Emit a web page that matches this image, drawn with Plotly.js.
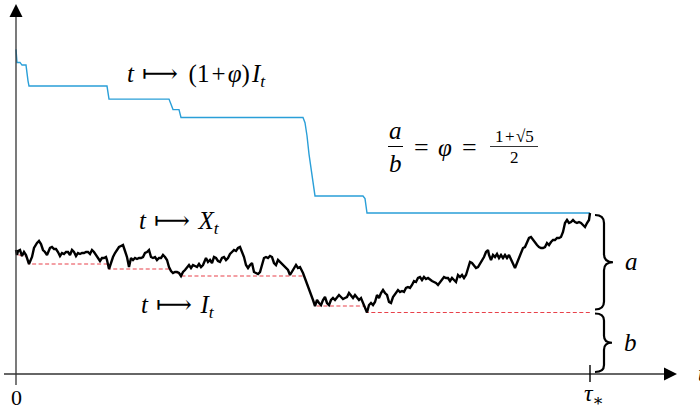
<!DOCTYPE html>
<html>
<head>
<meta charset="utf-8">
<script src="https://cdn.plot.ly/plotly-3.0.1.min.js"></script>
<style>
  html, body { margin: 0; padding: 0; background: #fff; }
  #chart { width: 700px; height: 411px; }
</style>
</head>
<body>
<div id="chart"></div>
<script>
// Sample path X_t (t in steps, tau* = last step)
const tSteps = [
  0, 1, 2, 4, 6, 8, 10, 12, 13, 16, 18, 21, 23, 25, 27, 29, 31, 34, 36, 38,
  40, 42, 44, 46, 48, 50, 52, 54, 56, 58, 60, 62, 64, 66, 68, 70, 72, 74, 76, 78,
  80, 82, 84, 86, 88, 90, 91, 93, 95, 97, 99, 101, 103, 105, 107, 109, 111, 113, 115, 117,
  119, 121, 123, 125, 127, 129, 131, 133, 135, 137, 139, 141, 143, 145, 147, 149, 151, 153, 155, 157,
  159, 161, 163, 165, 167, 169, 171, 173, 175, 177, 179, 181, 183, 185, 187, 188, 190, 192, 194, 196,
  198, 200, 202, 204, 206, 208, 210, 212, 214, 216, 218, 220, 222, 224, 226, 228, 230, 232, 234, 236,
  238, 240, 242, 244, 246, 248, 250, 252, 254, 256, 258, 260, 262, 264, 266, 268, 270, 272, 274, 276,
  278, 280, 282, 284, 287, 289, 291, 293, 295, 297, 299, 301, 303, 305, 307, 309, 311, 313, 315, 317,
  319, 321, 323, 325, 327, 329, 331, 333, 335, 337, 339, 341, 343, 345, 347, 349, 351, 353, 355, 357,
  359, 361, 363, 365, 367, 369, 371, 373, 375, 377, 380, 382, 384, 386, 388, 390, 392, 394, 396, 398,
  400, 402, 404, 406, 408, 410, 412, 414, 416, 418, 420, 422, 424, 426, 428, 430, 432, 434, 436, 438,
  440, 442, 444, 446, 448, 450, 452, 454, 456, 458, 460, 462, 464, 466, 468, 470, 472, 473, 475, 477,
  479, 481, 483, 485, 487, 489, 491, 493, 495, 497, 499, 501, 503, 505, 507, 509, 511, 513, 515, 517,
  519, 521, 523, 525, 527, 529, 531, 533, 535, 537, 539, 541, 543, 545, 547, 549, 551, 553, 555, 557,
  559, 561, 563, 565, 567, 569, 571, 573, 574
];
const xPath = [
  1.24, 1.19, 1.23, 1.24, 1.18, 1.22, 1.19, 1.12, 1.10, 1.17, 1.26, 1.31, 1.33, 1.30, 1.24, 1.22, 1.19, 1.26, 1.27, 1.25,
  1.25, 1.22, 1.18, 1.21, 1.20, 1.22, 1.22, 1.19, 1.24, 1.22, 1.18, 1.21, 1.20, 1.21, 1.21, 1.22, 1.22, 1.20, 1.24, 1.22,
  1.19, 1.16, 1.13, 1.16, 1.16, 1.17, 1.14, 1.05, 1.12, 1.17, 1.21, 1.24, 1.27, 1.28, 1.29, 1.23, 1.17, 1.07, 1.16, 1.14,
  1.16, 1.15, 1.16, 1.16, 1.17, 1.21, 1.22, 1.24, 1.17, 1.16, 1.17, 1.14, 1.16, 1.16, 1.19, 1.17, 1.14, 1.07, 1.03, 1.01,
  1.02, 1.02, 1.01, 0.98, 1.02, 1.04, 1.07, 1.09, 1.06, 1.09, 1.08, 1.07, 1.10, 1.07, 1.09, 1.12, 1.16, 1.12, 1.14, 1.11,
  1.17, 1.16, 1.13, 1.12, 1.16, 1.17, 1.14, 1.16, 1.20, 1.22, 1.24, 1.23, 1.26, 1.27, 1.22, 1.17, 1.09, 1.06, 1.09, 1.11,
  1.02, 1.01, 1.00, 1.02, 1.09, 1.16, 1.17, 1.16, 1.18, 1.17, 1.11, 1.09, 1.14, 1.12, 1.10, 1.07, 1.06, 1.04, 0.99, 1.02,
  1.06, 1.09, 1.06, 1.07, 1.01, 0.96, 0.91, 0.84, 0.79, 0.74, 0.68, 0.74, 0.71, 0.69, 0.74, 0.77, 0.71, 0.69, 0.74, 0.76,
  0.74, 0.76, 0.79, 0.77, 0.75, 0.76, 0.77, 0.81, 0.79, 0.76, 0.79, 0.77, 0.74, 0.76, 0.71, 0.67, 0.615, 0.69, 0.71, 0.69,
  0.72, 0.79, 0.76, 0.81, 0.84, 0.81, 0.79, 0.72, 0.71, 0.77, 0.82, 0.84, 0.82, 0.83, 0.82, 0.86, 0.87, 0.86, 0.89, 0.93,
  0.92, 0.96, 0.97, 0.94, 0.97, 0.95, 0.96, 0.94, 0.93, 0.92, 0.91, 0.89, 0.92, 0.94, 0.97, 0.96, 0.96, 0.93, 0.96, 0.94,
  0.92, 0.99, 0.97, 0.99, 0.96, 0.99, 1.06, 1.12, 1.11, 1.08, 1.06, 1.07, 1.10, 1.14, 1.17, 1.22, 1.24, 1.19, 1.14, 1.19,
  1.17, 1.20, 1.16, 1.19, 1.16, 1.19, 1.16, 1.19, 1.14, 1.11, 1.06, 1.11, 1.16, 1.21, 1.26, 1.27, 1.32, 1.36, 1.37, 1.34,
  1.32, 1.29, 1.27, 1.26, 1.26, 1.27, 1.31, 1.29, 1.32, 1.34, 1.34, 1.36, 1.36, 1.37, 1.42, 1.51, 1.54, 1.51, 1.52, 1.54,
  1.52, 1.51, 1.52, 1.51, 1.49, 1.47, 1.51, 1.54, 1.61
];

const PHI = (1 + Math.sqrt(5)) / 2;
const W = 700, H = 411;
const FONT = "Liberation Serif, DejaVu Serif, serif";

// I_t = running minimum of X, and (1+phi) I_t
const iPath = [];
xPath.forEach((v, k) => iPath.push(k === 0 ? v : Math.min(iPath[k - 1], v)));
const blueLine = iPath.map((v) => (1 + PHI) * v);

const tStar = tSteps[tSteps.length - 1];
const xEnd = xPath[xPath.length - 1];
const iEnd = iPath[iPath.length - 1];

// pixel -> paper helpers for decorations
const px = (x) => x / W;
const py = (y) => 1 - y / H;
function pathPx(pts, close) {
  return pts.map((p, i) => (i ? "L" : "M") + px(p[0]) + "," + py(p[1])).join(" ") + (close ? " Z" : "");
}

function bracePath(t0, yTop, yBot, arm, tip, r) {
  const mid = (yTop + yBot) / 2;
  return `M${t0},${yTop} Q${t0 + arm},${yTop} ${t0 + arm},${yTop - r} ` +
    `L${t0 + arm},${mid + r} Q${t0 + arm},${mid} ${t0 + tip},${mid} ` +
    `Q${t0 + arm},${mid} ${t0 + arm},${mid - r} L${t0 + arm},${yBot + r} ` +
    `Q${t0 + arm},${yBot} ${t0},${yBot}`;
}

const traces = [
  {
    x: tSteps, y: iPath, mode: "lines", hoverinfo: "skip",
    line: { color: "#e8414a", width: 1.1, dash: "4px,2.5px" },
  },
  {
    x: tSteps, y: blueLine, mode: "lines", hoverinfo: "skip",
    line: { color: "#2a9fd8", width: 1.4 },
  },
  {
    x: tSteps, y: xPath, mode: "lines", hoverinfo: "skip",
    line: { color: "#000", width: 2.4 },
  },
];

function note(text, x, y, size, anchor) {
  return {
    xref: "paper", yref: "paper", x: px(x), y: py(y), text: text,
    showarrow: false, xanchor: anchor || "center", yanchor: "middle",
    font: { family: FONT, size: size || 25, color: "#000" },
  };
}

const HS = "\u200A";
const MAPSTO = "\u2004⟼\u2004";

const annotations = [
  note("<i>t</i>" + MAPSTO + HS + "(1" + HS + "+" + HS + "<i>φ</i>)" + HS + "<i>I</i><sub><i>t</i></sub>", 125, 75, 25, "left"),
  note("<i>t</i>" + MAPSTO + "<i>X</i><sub><i>t</i></sub>", 137, 222, 25, "left"),
  note("<i>t</i>" + MAPSTO + "<i>I</i><sub><i>t</i></sub>", 139, 306, 25, "left"),
  note("<i>a</i>", 395, 131, 25),
  note("<i>b</i>", 395, 163, 25),
  note("=", 421, 147, 26),
  note("<i>φ</i>", 445, 147, 25),
  note("=", 469, 147, 26),
  note("1" + HS + "+" + HS + "√5", 514, 137, 17),
  note("2", 514, 157, 17),
  note("0", 16, 397, 22),
  note("<i>τ</i><sub>∗</sub>", 594, 395, 24),
  note("<i>a</i>", 631, 261, 25),
  note("<i>b</i>", 630, 342, 25),
  note("<i>t</i>", 696, 373, 23, "left"),
];

const shapes = [
  // axes with arrowheads
  { type: "line", xref: "paper", yref: "paper", x0: px(4), y0: py(374), x1: px(666), y1: py(374),
    line: { color: "#333", width: 1.3 } },
  { type: "path", xref: "paper", yref: "paper", path: pathPx([[677, 374], [664, 367.5], [664, 380.5]], true),
    fillcolor: "#000", line: { width: 0 } },
  { type: "line", xref: "paper", yref: "paper", x0: px(16), y0: py(385), x1: px(16), y1: py(15),
    line: { color: "#333", width: 1.3 } },
  { type: "path", xref: "paper", yref: "paper", path: pathPx([[16, 4], [9.5, 17], [22.5, 17]], true),
    fillcolor: "#000", line: { width: 0 } },
  // tau* tick
  { type: "line", xref: "x", yref: "y", x0: tStar, x1: tStar, y0: -0.08, y1: 0.09,
    line: { color: "#000", width: 1.4 } },
  // braces a and b
  { type: "path", xref: "x", yref: "y", path: bracePath(tStar + 5, xEnd - 0.02, iEnd + 0.03, 9, 18, 0.08),
    line: { color: "#000", width: 2.2 } },
  { type: "path", xref: "x", yref: "y", path: bracePath(tStar + 5, iEnd - 0.01, 0.02, 9, 17, 0.07),
    line: { color: "#000", width: 2.2 } },
  // fraction bars
  { type: "line", xref: "paper", yref: "paper", x0: px(388), x1: px(403), y0: py(146.5), y1: py(146.5),
    line: { color: "#000", width: 1 } },
  { type: "line", xref: "paper", yref: "paper", x0: px(490), x1: px(538), y0: py(146.5), y1: py(146.5),
    line: { color: "#000", width: 0.8 } },
];

const layout = {
  width: W, height: H,
  margin: { l: 0, r: 0, t: 0, b: 0 },
  paper_bgcolor: "#fff", plot_bgcolor: "#fff",
  showlegend: false,
  xaxis: { range: [-16, 684], visible: false, fixedrange: true },
  yaxis: { range: [-0.37, 3.74], visible: false, fixedrange: true },
  annotations: annotations,
  shapes: shapes,
};

Plotly.newPlot("chart", traces, layout, { displayModeBar: false, staticPlot: true });
</script>
</body>
</html>
